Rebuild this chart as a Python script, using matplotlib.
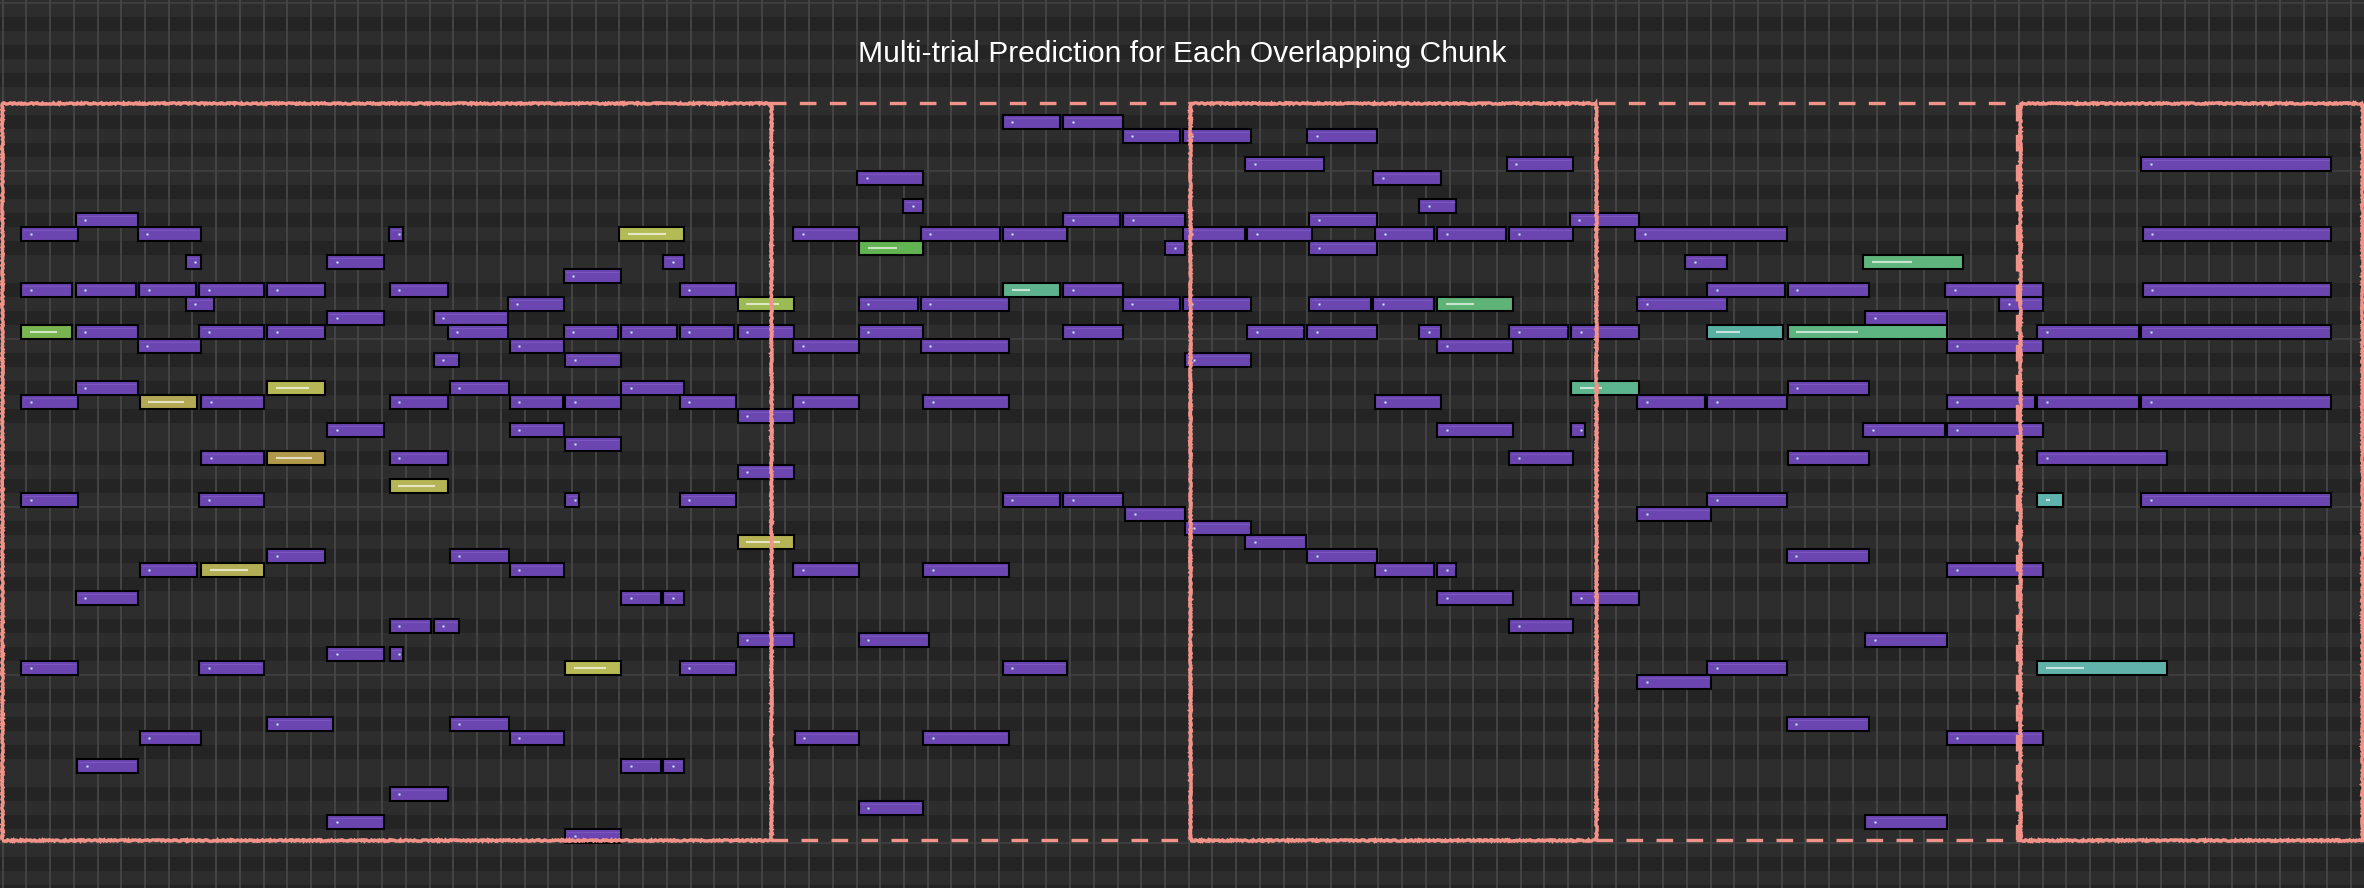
import matplotlib.pyplot as plt
from matplotlib.patches import Rectangle
import numpy as np

# --- data -------------------------------------------------------------
# time in grid steps, pitch as MIDI-like row index
chunk_start = [-0.05, 32.37, 50.06, 67.19, 85.03]
chunk_end = [32.37, 50.06, 67.19, 84.92, 99.46]
chunk_dashed = [False, True, False, True, False]
chunk_pitch_lo = 24.24
chunk_pitch_hi = 76.89

# purple notes: (pitch, start, end)
notes_first = [
    (68, 3.05, 5.74),
    (67, 0.75, 3.22), (67, 5.65, 8.38), (67, 16.25, 16.90),
    (65, 7.67, 8.38), (65, 13.65, 16.13), (65, 27.81, 28.77),
    (64, 23.61, 26.09),
    (63, 0.75, 2.96), (63, 3.05, 5.65), (63, 5.72, 8.17), (63, 8.25, 11.05),
    (63, 11.11, 13.61), (63, 16.28, 18.80), (63, 28.50, 30.97),
    (62, 7.67, 8.94), (62, 21.25, 23.72),
    (61, 13.65, 16.13), (61, 18.13, 21.33),
    (60, 3.05, 5.74), (60, 8.25, 11.05), (60, 11.11, 13.61), (60, 18.73, 21.33),
    (60, 23.61, 26.00), (60, 26.04, 28.45), (60, 28.50, 30.88), (60, 30.95, 33.40),
    (59, 5.65, 8.38), (59, 21.33, 23.72),
    (58, 18.13, 19.27), (58, 23.68, 26.09),
    (56, 3.05, 5.74), (56, 18.80, 21.37), (56, 26.04, 28.77),
    (55, 0.75, 3.22), (55, 8.34, 11.05), (55, 16.28, 18.80), (55, 21.33, 23.65),
    (55, 23.68, 26.09), (55, 28.50, 30.97),
    (54, 30.95, 33.40),
    (53, 13.65, 16.13), (53, 21.33, 23.72),
    (52, 23.68, 26.09),
    (51, 8.34, 11.05), (51, 16.28, 18.80),
    (50, 30.95, 33.40),
    (48, 0.75, 3.22), (48, 8.25, 11.05), (48, 23.68, 24.33), (48, 28.50, 30.97),
    (44, 11.11, 13.61), (44, 18.80, 21.37),
    (43, 5.74, 8.25), (43, 21.33, 23.72),
    (41, 3.05, 5.74), (41, 26.04, 27.80), (41, 27.81, 28.77),
    (39, 16.28, 18.10), (39, 18.13, 19.27),
    (38, 30.95, 33.40),
    (37, 13.65, 16.13), (37, 16.28, 16.90),
    (36, 0.75, 3.22), (36, 8.25, 11.05), (36, 28.50, 30.97),
    (32, 11.11, 13.95), (32, 18.80, 21.37),
    (31, 5.74, 8.38), (31, 21.33, 23.72),
    (29, 3.11, 5.74), (29, 26.04, 27.80), (29, 27.81, 28.77),
    (27, 16.28, 18.80),
    (25, 13.65, 16.13),
    (24, 23.68, 26.09),
]

notes_rest = [
    (75, 42.13, 44.63), (75, 44.67, 47.26),
    (74, 47.19, 49.69), (74, 49.71, 52.65), (74, 54.95, 57.97),
    (72, 52.35, 55.76), (72, 63.38, 66.23), (72, 90.12, 98.19),
    (71, 35.99, 38.83), (71, 57.74, 60.66),
    (69, 37.93, 38.83), (69, 59.68, 61.33),
    (68, 44.67, 47.16), (68, 47.20, 49.87), (68, 55.05, 57.97), (68, 66.02, 69.01),
    (67, 33.28, 36.13), (67, 38.67, 42.10), (67, 42.13, 44.90), (67, 49.71, 52.41),
    (67, 52.42, 55.22), (67, 57.82, 60.39), (67, 60.43, 63.43), (67, 63.48, 66.23),
    (67, 68.78, 75.25), (67, 90.19, 98.19),
    (66, 48.97, 49.87), (66, 55.05, 57.97),
    (65, 70.89, 72.72),
    (63, 44.67, 47.26), (63, 71.82, 75.18), (63, 75.21, 78.71), (63, 81.86, 86.06),
    (63, 90.19, 98.19),
    (62, 36.06, 38.64), (62, 38.67, 42.46), (62, 47.19, 49.69), (62, 49.71, 52.65),
    (62, 55.05, 57.71), (62, 57.74, 60.39), (62, 68.87, 72.72), (62, 84.13, 86.06),
    (61, 78.49, 81.99),
    (60, 36.06, 38.83), (60, 44.67, 47.26), (60, 52.42, 54.92), (60, 54.95, 57.97),
    (60, 59.68, 60.66), (60, 63.48, 66.05), (60, 66.09, 69.01), (60, 85.74, 90.11),
    (60, 90.12, 98.19),
    (59, 33.28, 36.13), (59, 38.67, 42.46), (59, 60.43, 63.70), (59, 81.94, 86.06),
    (58, 49.80, 52.65),
    (56, 75.21, 78.71),
    (55, 33.28, 36.13), (55, 38.76, 42.46), (55, 57.82, 60.66), (55, 68.87, 71.79),
    (55, 71.82, 75.25), (55, 81.94, 85.70), (55, 85.74, 90.11), (55, 90.12, 98.19),
    (53, 60.43, 63.70), (53, 66.09, 66.73), (53, 78.40, 81.92), (53, 81.94, 86.06),
    (51, 63.48, 66.23), (51, 75.21, 78.71), (51, 85.74, 91.27),
    (48, 42.13, 44.63), (48, 44.67, 47.26), (48, 71.82, 75.25), (48, 90.12, 98.19),
    (47, 47.29, 49.87), (47, 68.87, 72.05),
    (46, 49.80, 52.65),
    (45, 52.35, 55.00),
    (44, 54.95, 57.97), (44, 75.18, 78.71),
    (43, 33.28, 36.13), (43, 38.76, 42.46), (43, 57.82, 60.39), (43, 60.43, 61.33),
    (43, 81.94, 86.06),
    (41, 60.43, 63.70), (41, 66.09, 69.01),
    (39, 63.48, 66.23),
    (38, 36.06, 39.08), (38, 78.49, 81.99),
    (36, 42.13, 44.90), (36, 71.82, 75.25),
    (35, 68.87, 72.05),
    (32, 75.18, 78.71),
    (31, 33.35, 36.13), (31, 38.76, 42.46), (31, 81.94, 86.06),
    (26, 36.06, 38.83),
    (25, 78.49, 81.99),
]

# highlighted notes: (pitch, start, end, colour, marker length)
trial_notes = [
    (67, 25.96, 28.77, "#b3bb55", 1.62),
    (62, 30.95, 33.40, "#9dbb55", 1.36),
    (60, 0.75, 2.96, "#78b450", 1.12),
    (56, 11.11, 13.61, "#b6b856", 1.40),
    (55, 5.74, 8.25, "#b3a853", 1.50),
    (51, 11.11, 13.61, "#b09a4a", 1.53),
    (49, 16.28, 18.80, "#b5b555", 1.53),
    (45, 30.95, 33.40, "#b5b356", 1.42),
    (43, 8.34, 11.05, "#b3ae55", 1.59),
    (36, 23.68, 26.09, "#b8bb55", 1.36),
    (66, 36.06, 38.83, "#62b452", 1.26),
    (63, 42.13, 44.63, "#5fb38c", 0.77),
    (62, 60.43, 63.70, "#60b377", 1.18),
    (60, 71.82, 75.10, "#58b0a2", 1.02),
    (60, 75.21, 81.99, "#5db480", 2.60),
    (56, 66.09, 69.01, "#5db58f", 0.92),
    (65, 78.40, 82.67, "#5fb57c", 1.70),
    (48, 85.74, 86.89, "#5fb3ae", 0.17),
    (36, 85.74, 91.27, "#60b2ab", 1.60),
]

title = "Multi-trial Prediction for Each Overlapping Chunk"

# --- figure -----------------------------------------------------------
fig = plt.figure(figsize=(23.64, 8.88), dpi=100)
ax = fig.add_axes([0, 0, 1, 1])
ax.set_xlim(-0.1138, 99.55)
ax.set_ylim(20.807, 84.236)
ax.axis("off")

# piano roll background
black_keys = {1, 3, 6, 8, 10}
for p in range(20, 85):
    c = "#242424" if p % 12 in black_keys else "#2d2d2d"
    ax.axhspan(p, p + 1, color=c, lw=0, zorder=0)
    if p % 12 == 0:
        ax.axhline(p, color="#3e3e3e", lw=1.3, zorder=1)
for t in range(0, 100):
    ax.axvline(t, color="#464646", lw=1.3, zorder=1)

inset = 0.04  # outline sits just inside the measured note edges


def draw_note(p, s, e, fc):
    ax.add_patch(Rectangle((s + inset, p), e - s - 2 * inset, 1,
                           facecolor=fc, edgecolor="black", lw=1.5, zorder=3))


for p, s, e in notes_first + notes_rest:
    draw_note(p, s, e, "#6b45b0")
    ax.hlines(p + 0.82, s + 0.12, e - 0.12, color="#7a56c0", lw=0.8, zorder=4)
    ax.plot(s + 0.44, p + 0.5, marker="s", ms=1.6, color="#c6f2ff",
            mec="none", zorder=5)

for p, s, e, col, mlen in trial_notes:
    draw_note(p, s, e, col)
    rgb = np.array(plt.matplotlib.colors.to_rgb(col))
    light = rgb + (1 - rgb) * 0.65
    ax.hlines(p + 0.5, s + 0.4, s + 0.4 + mlen, color=light, lw=1.5, zorder=4)

# chunk outlines
for s, e, dashed in zip(chunk_start, chunk_end, chunk_dashed):
    box = Rectangle((s, chunk_pitch_lo), e - s, chunk_pitch_hi - chunk_pitch_lo,
                    fill=False, edgecolor="#f2938a", lw=2.4, zorder=6,
                    linestyle=(0, (5, 4)) if dashed else "-")
    if not dashed:
        box.set_sketch_params(0.7, 3, 6)
    ax.add_patch(box)

fig.text(0.5, 1 - 62 / 888, title, ha="center", va="baseline",
         color="white", fontsize=21.6, family="Liberation Sans")

fig.savefig("out.png", dpi=100, facecolor="#2d2d2d")
